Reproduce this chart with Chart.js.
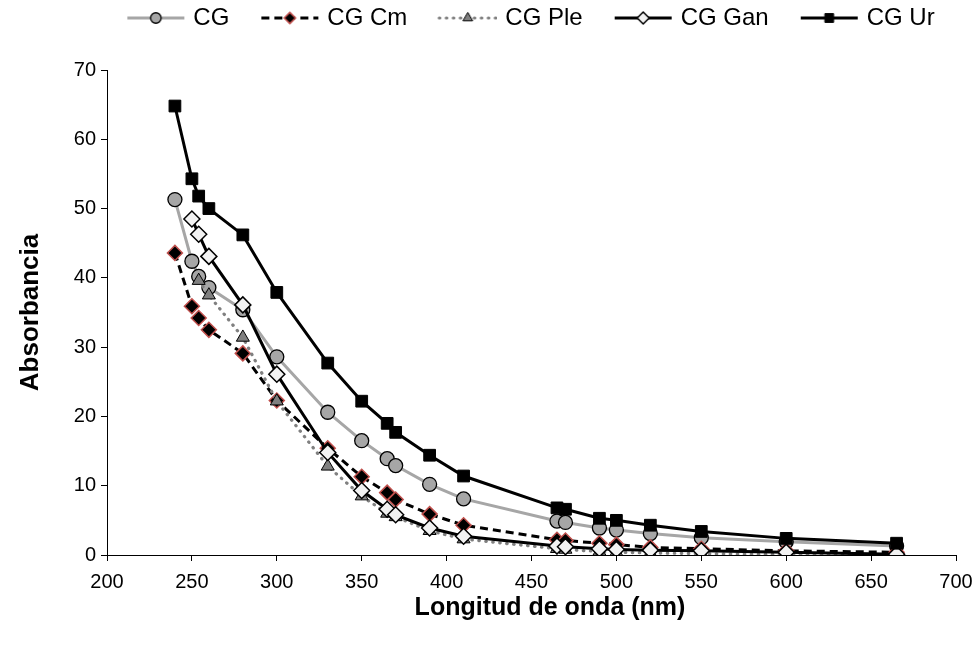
<!DOCTYPE html>
<html><head><meta charset="utf-8">
<script src="https://cdn.jsdelivr.net/npm/chart.js@4.4.0/dist/chart.umd.min.js"></script>
<style>html,body{margin:0;padding:0;background:#fff}#wrap{width:976px;height:645px}</style>
</head><body><div id="wrap"><canvas id="c" width="976" height="645"></canvas></div>
<script>
// ---- data ----
const seriesNames = ['CG', 'CG Cm', 'CG Ple', 'CG Gan', 'CG Ur'];
const wlCG  = [240,250,254,260,280,300,330,350,365,370,390,410,465,470,490,500,520,550,600,665];
const absCG = [51.3,42.4,40.2,38.6,35.4,28.6,20.6,16.5,13.9,12.9,10.2,8.1,4.9,4.7,3.9,3.6,3.1,2.5,1.9,1.3];
const wlCm  = [240,250,254,260,280,300,330,350,365,370,390,410,465,470,490,500,520,550,600,665];
const absCm = [43.6,35.9,34.2,32.5,29.1,22.3,15.4,11.3,9.0,8.0,5.9,4.3,2.2,2.1,1.7,1.5,1.1,0.9,0.6,0.4];
const wlPle  = [254,260,280,300,330,350,365,370,390,410,465,470,490,500,520,550,600,665];
const absPle = [39.6,37.5,31.4,22.2,12.8,8.5,6.0,5.5,3.5,2.3,0.9,0.8,0.5,0.4,0.3,0.2,0.1,0.05];
const wlGan  = [250,254,260,280,300,330,350,365,370,390,410,465,470,490,500,520,550,600,665];
const absGan = [48.5,46.3,43.1,36.1,26.1,14.8,9.3,6.6,5.8,3.9,2.7,1.3,1.2,0.9,0.8,0.7,0.6,0.4,0.1];
const wlUr  = [240,250,254,260,280,300,330,350,365,370,390,410,465,470,490,500,520,550,600,665];
const absUr = [64.8,54.3,51.8,50.0,46.2,37.9,27.7,22.2,19.0,17.7,14.4,11.4,6.8,6.6,5.3,5.0,4.3,3.4,2.4,1.7];
const xTicks = {min: 200, max: 700, step: 50};
const yTicks = {min: 0, max: 70, step: 10};
const xTitle = 'Longitud de onda (nm)';
const yTitle = 'Absorbancia';

// ---- styles ----
const FONT = "'Liberation Sans', Arial, sans-serif";
const styles = [
  {line:'#A6A6A6', dash:[], cap:'butt', width:3, pt:'circle', r:7, fill:'#A6A6A6', border:'#000', bw:1.3, order:4},
  {line:'#000000', dash:[8,5], cap:'butt', width:3, pt:'rectRot', r:7.5, fill:'#000000', border:'#C0504D', bw:1.5, order:3},
  {line:'#808080', dash:[0.5,6.5], cap:'round', width:3.2, pt:'triangle', r:7.5, fill:'#808080', border:'#000', bw:1, order:2},
  {line:'#000000', dash:[], cap:'butt', width:3, pt:'rectRot', r:8, fill:'#F2F2F2', border:'#000', bw:1.5, order:1},
  {line:'#000000', dash:[], cap:'butt', width:3, pt:'rect', r:8.3, fill:'#000000', border:'#000', bw:1, order:0}
];
const xs = [wlCG, wlCm, wlPle, wlGan, wlUr];
const ys = [absCG, absCm, absPle, absGan, absUr];

function drawMarker(ctx, s, x, y, r) {
  ctx.beginPath();
  if (s.pt === 'circle') ctx.arc(x, y, r, 0, Math.PI * 2);
  else if (s.pt === 'rectRot') { ctx.moveTo(x - r, y); ctx.lineTo(x, y - r); ctx.lineTo(x + r, y); ctx.lineTo(x, y + r); ctx.closePath(); }
  else if (s.pt === 'triangle') { ctx.moveTo(x, y - r); ctx.lineTo(x + 0.866 * r, y + 0.5 * r); ctx.lineTo(x - 0.866 * r, y + 0.5 * r); ctx.closePath(); }
  else { const h = r * Math.SQRT1_2; ctx.rect(x - h, y - h, 2 * h, 2 * h); }
  ctx.fillStyle = s.fill; ctx.fill();
  ctx.lineWidth = s.bw; ctx.strokeStyle = s.border; ctx.stroke();
}
const LEG_M = 29, LEG_SYM = 59, LEG_H = 24;
const LEG_BOX = LEG_M + LEG_SYM - 8;
function legendSymbol(s) {
  const c = document.createElement('canvas');
  c.width = LEG_M + LEG_SYM; c.height = LEG_H;
  const ctx = c.getContext('2d');
  ctx.save();
  ctx.strokeStyle = s.line; ctx.lineWidth = s.width; ctx.lineCap = s.cap; ctx.setLineDash(s.dash);
  ctx.beginPath(); ctx.moveTo(LEG_M + 1, LEG_H / 2); ctx.lineTo(LEG_M + LEG_SYM - 1, LEG_H / 2); ctx.stroke();
  ctx.restore();
  drawMarker(ctx, s, LEG_M + LEG_SYM / 2, LEG_H / 2, s.r * 0.75);
  return c;
}
const legendImgs = styles.map(legendSymbol);

const datasets = seriesNames.map((name, i) => {
  const s = styles[i];
  return {
    label: name,
    data: xs[i].map((x, k) => ({x: x, y: ys[i][k]})),
    borderColor: s.line, borderWidth: s.width, borderDash: s.dash, borderCapStyle: s.cap,
    backgroundColor: s.fill, fill: false, tension: 0,
    pointStyle: s.pt, pointRadius: s.r, pointHoverRadius: s.r,
    pointBackgroundColor: s.fill, pointBorderColor: s.border, pointBorderWidth: s.bw,
    order: s.order
  };
});

const layoutPlugin = {
  id: 'layoutFix',
  beforeLayout(chart) {
    const lg = chart.legend;
    if (lg && !lg._patched) {
      const f = lg.fit;
      lg.fit = function () { f.call(this); this.height = 70; };
      lg._patched = true;
    }
  },
  afterLayout(chart) {
    const lg = chart.legend;
    if (lg) { lg.left += 40; lg.right += 40; }
  },
  afterDraw(chart) {
    const ctx = chart.ctx;
    ctx.save();
    ctx.fillStyle = '#000';
    ctx.font = 'bold 25px ' + FONT;
    ctx.textAlign = 'center';
    ctx.textBaseline = 'middle';
    ctx.fillText(xTitle, 550, 608);
    ctx.restore();
  }
};

new Chart(document.getElementById('c'), {
  type: 'line',
  data: {datasets},
  plugins: [layoutPlugin],
  options: {
    responsive: false, animation: false, devicePixelRatio: 1,
    layout: {padding: {left: 0, right: 20, top: 0, bottom: 0}},
    plugins: {
      tooltip: {enabled: false},
      legend: {
        position: 'top', fullSize: true,
        labels: {
          usePointStyle: true, pointStyleWidth: LEG_BOX, boxHeight: 24, padding: 6,
          color: '#000', font: {family: FONT, size: 24},
          generateLabels: (chart) => chart.data.datasets.map((ds, i) => ({
            text: ds.label, pointStyle: legendImgs[i], fillStyle: 'rgba(0,0,0,0)',
            strokeStyle: 'rgba(0,0,0,0)', lineWidth: 0, hidden: false, datasetIndex: i, fontColor: '#000'
          }))
        }
      }
    },
    scales: {
      x: {
        type: 'linear', min: xTicks.min, max: xTicks.max,
        ticks: {stepSize: xTicks.step, color: '#000', font: {family: FONT, size: 20}, padding: 9, maxRotation: 0},
        grid: {display: true, drawOnChartArea: false, drawTicks: true, tickLength: 6, tickColor: '#000', lineWidth: 1},
        border: {display: true, color: '#000', width: 1},
        title: {display: false},
        afterFit: (s) => { s.height = 90; s.paddingLeft = 0; s.paddingRight = 0; }
      },
      y: {
        type: 'linear', min: yTicks.min, max: yTicks.max,
        ticks: {stepSize: yTicks.step, color: '#000', font: {family: FONT, size: 20}, padding: 5},
        grid: {display: true, drawOnChartArea: false, drawTicks: true, tickLength: 6, tickColor: '#000', lineWidth: 1},
        border: {display: true, color: '#000', width: 1},
        title: {display: true, text: yTitle, color: '#000', font: {family: FONT, size: 26, weight: 'bold'}, padding: {top: 15, bottom: 0}},
        afterFit: (s) => { s.width = 107; }
      }
    }
  }
});
</script></body></html>
